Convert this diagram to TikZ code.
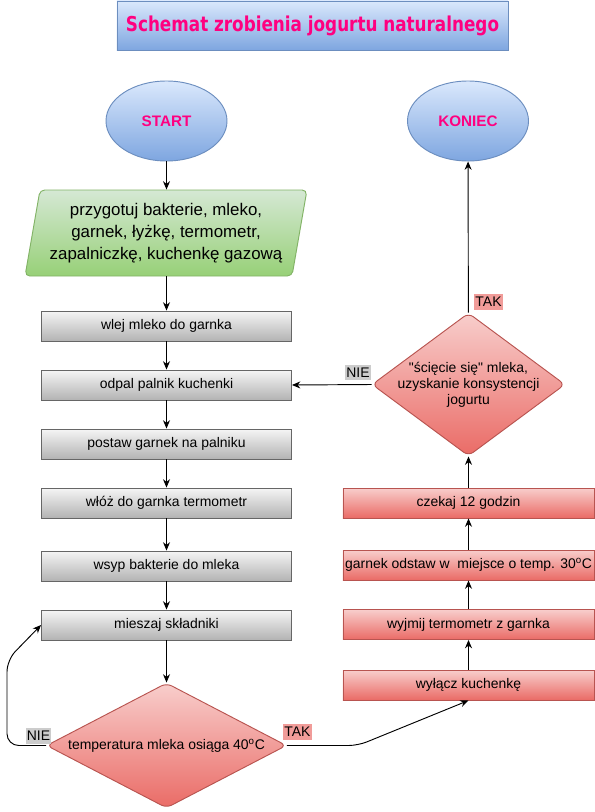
\documentclass[tikz,border=0pt]{standalone}
\usepackage{fontspec}
\setmainfont{Liberation Sans}[Ligatures=TeXOff]
\newfontfamily\titlefont[FakeStretch=0.82]{DejaVu Sans}
\usetikzlibrary{shapes.geometric,arrows.meta}

\definecolor{pinktext}{HTML}{FF0080}
\definecolor{bluetop}{HTML}{DAE8FC}
\definecolor{bluebot}{HTML}{7EA6E0}
\definecolor{blueline}{HTML}{6C8EBF}
\definecolor{greentop}{HTML}{D5E8D4}
\definecolor{greenbot}{HTML}{97D077}
\definecolor{greenline}{HTML}{82B366}
\definecolor{graytop}{HTML}{F5F5F5}
\definecolor{graybot}{HTML}{B3B3B3}
\definecolor{grayline}{HTML}{666666}
\definecolor{redtop}{HTML}{F8CECC}
\definecolor{redbot}{HTML}{EA6B66}
\definecolor{redline}{HTML}{B85450}
\definecolor{nielabel}{HTML}{CCCCCC}
\definecolor{taklabel}{HTML}{F19C99}

\newcommand\boxfont{\fontsize{11.9}{13.6}\selectfont}

\tikzset{
  titlebox/.style={draw=blueline,top color=bluetop,bottom color=bluebot,
    minimum width=11.73cm,minimum height=1.47cm,inner sep=0pt,
    text=pinktext,font=\titlefont\bfseries\fontsize{17.5}{20}\selectfont},
  oval/.style={ellipse,draw=blueline,top color=bluetop,bottom color=bluebot,
    minimum width=3.63cm,minimum height=2.4cm,inner sep=0pt,
    text=pinktext,font=\bfseries\fontsize{13}{15}\selectfont},
  inbox/.style={trapezium,trapezium left angle=77,trapezium right angle=103,
    trapezium stretches=true,rounded corners=4pt,
    draw=greenline,top color=greentop,bottom color=greenbot,
    minimum width=8.46cm,minimum height=2.58cm,inner sep=0pt,align=center,
    font=\fontsize{14.4}{18.8}\selectfont},
  graybox/.style={draw=grayline,top color=graytop,bottom color=graybot,
    minimum width=7.5cm,minimum height=0.9cm,inner sep=0pt,font=\boxfont},
  redbox/.style={draw=redline,top color=redtop,bottom color=redbot,
    minimum width=7.53cm,minimum height=0.9cm,inner sep=0pt,font=\boxfont},
  decision/.style={diamond,rounded corners=5pt,draw=redline,top color=redtop,
    bottom color=redbot,inner sep=0pt,align=center,font=\boxfont},
  nie/.style={fill=nielabel,inner xsep=1pt,inner ysep=2.5pt,font=\boxfont},
  tak/.style={fill=taklabel,inner xsep=1pt,inner ysep=2.5pt,font=\boxfont}
}

\begin{document}
\begin{tikzpicture}[x=0.03cm,y=-0.03cm,>={Stealth[length=2.5mm,width=2.1mm]},line width=0.8pt]
\useasboundingbox (0,0) rectangle (595,812);

\node (title) at (312.5,25.5) [titlebox] {Schemat zrobienia jogurtu naturalnego};

\node (start) at (166.5,121) [oval] {START};
\node (koniec) at (468,121) [oval] {KONIEC};

\node (prep) at (166,233) [inbox] {przygotuj bakterie, mleko,\\garnek, łyżkę, termometr,\\zapalniczkę, kuchenkę gazową};

% lewa kolumna
\node (wlej) at (166.5,326) [graybox] {wlej mleko do garnka};
\node (odpal) at (166.5,385) [graybox] {odpal palnik kuchenki};
\node (postaw) at (166.5,444) [graybox] {postaw garnek na palniku};
\node (wloz) at (166.5,503) [graybox] {włóż do garnka termometr};
\node (wsyp) at (166.5,566) [graybox] {wsyp bakterie do mleka};
\node (mieszaj) at (166.5,625) [graybox] {mieszaj składniki};
\node (temp) at (166.5,745.5) [decision,aspect=1.92,minimum width=7.2cm,minimum height=3.75cm] {temperatura mleka osiąga 40\textsuperscript{o}C};

% prawa kolumna
\node (wylacz) at (468.5,685) [redbox] {wyłącz kuchenkę};
\node (wyjmij) at (468.5,624.5) [redbox] {wyjmij termometr z garnka};
\node (odstaw) at (468.5,565) [redbox] {garnek odstaw w\ \ miejsce o temp. 30\textsuperscript{o}C};
\node (czekaj) at (468.5,503) [redbox] {czekaj 12 godzin};
\node (sciecie) at (468.5,384.5) [decision,aspect=1.35,inner xsep=-5pt,minimum width=5.79cm,minimum height=4.29cm,
  font=\fontsize{11.9}{13.6}\selectfont] {"ścięcie się" mleka,\\uzyskanie konsystencji\\jogurtu};

\node (nie1) at (38.5,736) [nie] {NIE};
\node (tak1) at (297.5,732) [tak] {TAK};
\node (nie2) at (358,372.5) [nie] {NIE};
\node (tak2) at (488.5,302) [tak] {TAK};

\draw[->] (start.south) -- (start.south |- prep.north);
\draw[->] (wlej.north |- prep.south) -- (wlej.north);
\draw[->] (wlej) -- (odpal);
\draw[->] (odpal) -- (postaw);
\draw[->] (postaw) -- (wloz);
\draw[->] (wloz) -- (wsyp);
\draw[->] (wsyp) -- (mieszaj);
\draw[->] (mieszaj) -- (temp);
\draw[->,rounded corners=10pt] (temp.west) -- (7,745.5) -- (7,660) -- (mieszaj.west);
\draw[->,rounded corners=8pt] (temp.east) -- (358,745.5) -- (wylacz.south);
\draw[->] (wylacz) -- (wyjmij);
\draw[->] (wyjmij) -- (odstaw);
\draw[->] (odstaw) -- (czekaj);
\draw[->] (czekaj) -- (sciecie);
\draw[->] (sciecie) -- (koniec);
\draw[->] (sciecie.west) -- (odpal.east);

\end{tikzpicture}
\end{document}
